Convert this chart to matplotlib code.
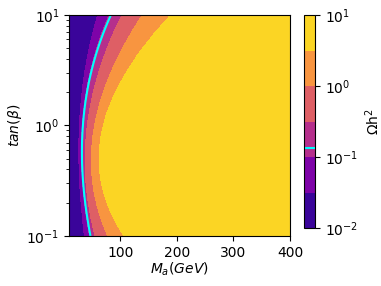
import numpy as np
import matplotlib
matplotlib.use('Agg')
import matplotlib.pyplot as plt
from matplotlib.colors import LogNorm

tanb_rows = [10, 5.0, 2.69, 1.44, 0.77, 0.49, 0.29, 0.17, 0.1]
# M_a (GeV) where Omega h^2 crosses each value, one entry per row
m_edge_003 = [60, 46.6, 34.8, 30.7, 27.2, 26.5, 29.5, 32.5, 36.5]     # 10^-1.5
m_edge_012 = [83, 62.1, 45.3, 36.5, 33.0, 31.8, 35.3, 40.0, 47.1]     # 0.12 (relic)
m_edge_03 = [102, 78.9, 60.0, 44.8, 38.8, 36.5, 41.8, 47.1, 54.2]     # 10^-0.5
m_edge_1 = [138, 105.3, 81.9, 61.2, 48.3, 45.0, 55.9, 64.7, 75.3]     # 10^0
m_edge_3 = [186, 146.4, 102.3, 77.6, 64.2, 58.9, 70.6, 85.4, 103.0]   # 10^0.5
edge_vals = [-1.9, -1.5, np.log10(0.12), -0.5, 0.0, 0.5, 0.95]

m_min, m_max = 10, 400
levels = np.logspace(-2, 1, 7)

M = np.linspace(m_min, m_max, 400)
T = np.logspace(-1, 1, 200)
lt = np.log10(T)
# smooth each read edge along log(tan beta)
edges = [np.polyval(np.polyfit(np.log10(tanb_rows), e, 3), lt)
         for e in [m_edge_003, m_edge_012, m_edge_03, m_edge_1, m_edge_3]]

Z = np.zeros((len(T), len(M)))
for i in range(len(T)):
    xs = [m_min] + [e[i] for e in edges] + [m_max]
    Z[i] = np.interp(M, xs, edge_vals)
Z = 10**Z

fig = plt.figure(figsize=(3.81, 2.86), dpi=100)
ax = fig.add_axes([0.182, 0.175, 0.579, 0.773])
cf = ax.contourf(M, T, Z, levels=levels, norm=LogNorm(), cmap='plasma')
cs = ax.contour(M, T, Z, levels=[0.12], colors='cyan', linewidths=1.5)
ax.set_yscale('log')
ax.set_xlim(m_min, m_max)
ax.set_ylim(0.1, 10)
ax.set_xticks([100, 200, 300, 400])
ax.set_xlabel(r'$M_a (GeV)$', fontsize=10, labelpad=1)
ax.set_ylabel(r'$tan(\beta)$', fontsize=10, labelpad=2)
ax.tick_params(labelsize=10)

cax = fig.add_axes([304/381, 1-228/286, 11/381, 213/286])
cbar = fig.colorbar(cf, cax=cax)
cbar.add_lines(cs)
cbar.set_ticks([1e-2, 1e-1, 1e0, 1e1])
cbar.ax.tick_params(labelsize=10)
cbar.set_label('Ωh$^2$', fontsize=10)

plt.savefig('out.png', dpi=100)
